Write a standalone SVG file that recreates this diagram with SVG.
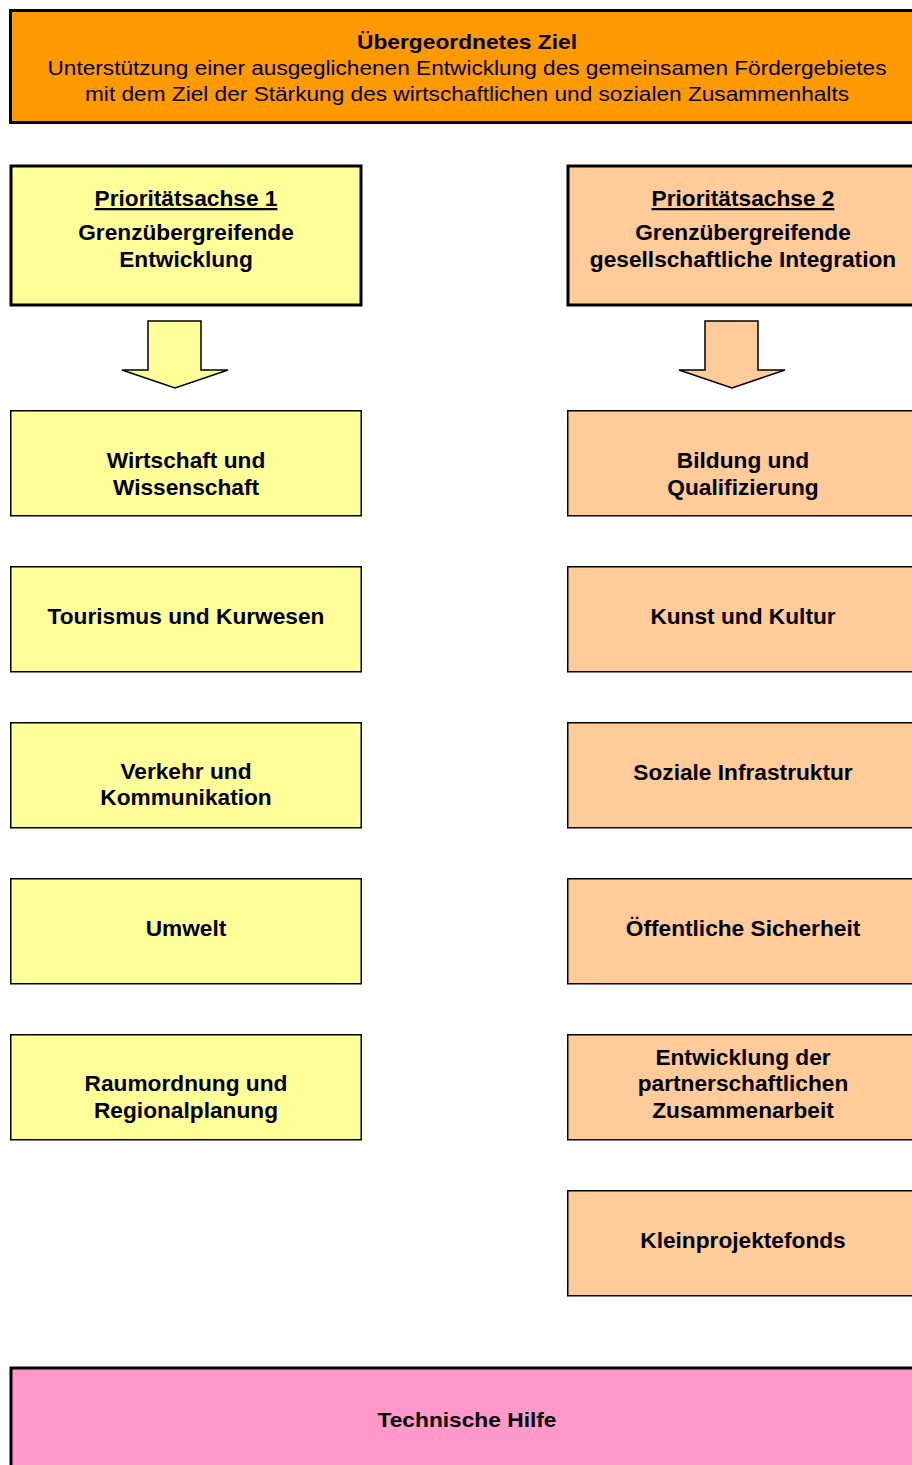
<svg xmlns="http://www.w3.org/2000/svg" width="912" height="1465" viewBox="0 0 912 1465">
<style>
text{font-family:"Liberation Sans",Arial,sans-serif;fill:#000;text-anchor:middle}
.b{font-weight:bold;font-size:22.7px}
.n{font-size:21px}
.t{font-weight:bold;font-size:21px}
.thick{stroke:#000;stroke-width:3}
.thin{stroke:#000;stroke-width:1.5}
.y{fill:#FFFF99}
.p{fill:#FFCC99}
.u{text-decoration:underline}
</style>
<g id="ziel">
<rect x="10.5" y="10.5" width="915" height="112" fill="#FF9900" class="thick"/>
<text class="t" x="467" y="49" textLength="220" lengthAdjust="spacingAndGlyphs">Übergeordnetes Ziel</text>
<text class="n" x="467" y="75" textLength="839" lengthAdjust="spacingAndGlyphs">Unterstützung einer ausgeglichenen Entwicklung des gemeinsamen Fördergebietes</text>
<text class="n" x="467" y="101" textLength="764" lengthAdjust="spacingAndGlyphs">mit dem Ziel der Stärkung des wirtschaftlichen und sozialen Zusammenhalts</text>
</g>
<g id="pa1">
<rect x="11" y="166" width="350" height="139" class="y thick"/>
<text class="b u" x="186" y="206">Prioritätsachse 1</text>
<text class="b" x="186" y="240">Grenzübergreifende</text>
<text class="b" x="186" y="267">Entwicklung</text>
</g>
<g id="pa2">
<rect x="568" y="166" width="352" height="139" class="p thick"/>
<text class="b u" x="743" y="206">Prioritätsachse 2</text>
<text class="b" x="743" y="240">Grenzübergreifende</text>
<text class="b" x="743" y="267">gesellschaftliche Integration</text>
</g>
<g id="connectors">
<polygon points="148,321 201,321 201,370 228,370 175,388 122,370 148,370" class="y thin"/>
<polygon points="705,321 758,321 758,370 785,370 732,388 679,370 705,370" class="p thin"/>
</g>
<g id="l1"><rect x="10.75" y="410.75" width="350.5" height="105" class="y thin"/>
<text class="b" x="186" y="468">Wirtschaft und</text><text class="b" x="186" y="495">Wissenschaft</text></g>
<g id="l2"><rect x="10.75" y="566.75" width="350.5" height="105" class="y thin"/>
<text class="b" x="186" y="624">Tourismus und Kurwesen</text></g>
<g id="l3"><rect x="10.75" y="722.75" width="350.5" height="105" class="y thin"/>
<text class="b" x="186" y="779">Verkehr und</text><text class="b" x="186" y="805">Kommunikation</text></g>
<g id="l4"><rect x="10.75" y="878.75" width="350.5" height="105" class="y thin"/>
<text class="b" x="186" y="936">Umwelt</text></g>
<g id="l5"><rect x="10.75" y="1034.75" width="350.5" height="105" class="y thin"/>
<text class="b" x="186" y="1091">Raumordnung und</text><text class="b" x="186" y="1118">Regionalplanung</text></g>
<g id="r1"><rect x="567.75" y="410.75" width="352" height="105" class="p thin"/>
<text class="b" x="743" y="468">Bildung und</text><text class="b" x="743" y="495">Qualifizierung</text></g>
<g id="r2"><rect x="567.75" y="566.75" width="352" height="105" class="p thin"/>
<text class="b" x="743" y="624">Kunst und Kultur</text></g>
<g id="r3"><rect x="567.75" y="722.75" width="352" height="105" class="p thin"/>
<text class="b" x="743" y="780">Soziale Infrastruktur</text></g>
<g id="r4"><rect x="567.75" y="878.75" width="352" height="105" class="p thin"/>
<text class="b" x="743" y="936">Öffentliche Sicherheit</text></g>
<g id="r5"><rect x="567.75" y="1034.75" width="352" height="105" class="p thin"/>
<text class="b" x="743" y="1065">Entwicklung der</text><text class="b" x="743" y="1091">partnerschaftlichen</text><text class="b" x="743" y="1118">Zusammenarbeit</text></g>
<g id="r6"><rect x="567.75" y="1190.75" width="352" height="105" class="p thin"/>
<text class="b" x="743" y="1248">Kleinprojektefonds</text></g>
<g id="hilfe">
<rect x="11" y="1368" width="915" height="104" fill="#FF99CC" class="thick"/>
<text class="t" x="467" y="1427" textLength="179" lengthAdjust="spacingAndGlyphs">Technische Hilfe</text>
</g>
</svg>
